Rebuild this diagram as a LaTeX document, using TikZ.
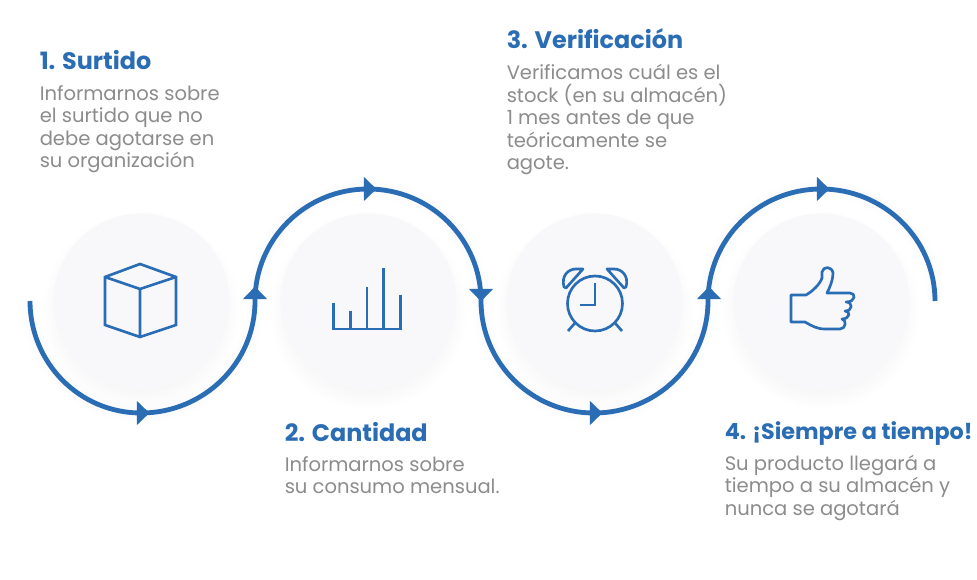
\documentclass[tikz,border=0pt]{standalone}
\usepackage{fontspec}
\setmainfont{Poppins}
\usetikzlibrary{positioning, backgrounds, shapes.geometric}
\definecolor{flowBlue}{HTML}{2A6DB5}
\definecolor{bodyGray}{HTML}{8C8C8C}
\definecolor{discGray}{HTML}{F8F8FB}
\newcommand{\trackpath}{(p0) to[out=-90, in=180] (low1) to[out=0, in=-90] (p1)
    to[out=90, in=180] (top2) to[out=0, in=90] (p2)
    to[out=-90, in=180] (low3) to[out=0, in=-90] (p3)
    to[out=90, in=180] (top4) to[out=0, in=90] (p4)}
\tikzset{
    discbox/.style={circle, minimum size=132pt, inner sep=0pt, fill=discGray},
    flowline/.style={line width=3.6pt, flowBlue},
    iconline/.style={line width=2pt, flowBlue, line join=miter},
    flowtip/.style={isosceles triangle, isosceles triangle apex angle=88, inner sep=0pt,
        minimum height=9.4pt, minimum width=18pt, fill=flowBlue},
    stephead/.style={anchor=base west, inner sep=0pt, text height=0pt, text depth=0pt,
        font=\fontsize{17.9}{21}\selectfont\bfseries, text=flowBlue},
    stepbody/.style={anchor=north west, inner sep=0pt, align=left, text=bodyGray,
        font=\fontsize{14.65}{16.9}\selectfont},
}
\begin{document}
\begin{tikzpicture}[x=0.75pt, y=-0.75pt]
    \useasboundingbox (0,0) rectangle (977,580);

    % Discs
    \node[discbox] (surtido) at (141.5,301.5) {};
    \node[discbox] (cantidad) at (368.5,301.5) {};
    \node[discbox] (verifica) at (594.5,301.5) {};
    \node[discbox] (tiempo) at (821.5,301.5) {};

    % Points on the track
    \coordinate (p0) at (30,301);
    \coordinate (p1) at (255,301);
    \coordinate (p2) at (481,301);
    \coordinate (p3) at (708,301);
    \coordinate (p4) at (935,301);
    \coordinate (low1) at (141,413);
    \coordinate (top2) at (368,189);
    \coordinate (low3) at (594,413);
    \coordinate (top4) at (821,189);

    % Soft shadows behind the discs and the track
    \begin{scope}[on background layer]
        \fill[white] (0,0) rectangle (977,580);
        \foreach \disc in {surtido,cantidad,verifica,tiempo}
            \foreach \grow in {-6,-4,...,8}
                \fill[black!70!blue, opacity=0.0045] ([yshift=-7pt]\disc.center) circle[radius=66pt+\grow pt];
        \foreach \wide in {5,8,11,14}
            \draw[black!70!blue, opacity=0.004, line width=\wide pt, yshift=-3pt] \trackpath;
    \end{scope}

    % Track
    \draw[flowline] \trackpath;

    % Arrow heads
    \node[flowtip] at (142,413) {};
    \node[flowtip, shape border rotate=90] at (255,294) {};
    \node[flowtip] at (369,189) {};
    \node[flowtip, shape border rotate=-90] at (481,294) {};
    \node[flowtip] at (595,413) {};
    \node[flowtip, shape border rotate=90] at (709,294) {};
    \node[flowtip] at (822,189) {};

    % Cube
    \draw[iconline] (140,264) -- (176,277) -- (176,325) -- (140,337) -- (105,325) -- (105,277) -- cycle;
    \draw[iconline] (105,277) -- (140,289) -- (176,277) (140,289) -- (140,337);

    % Bars
    \draw[iconline] (333.5,303) -- (333.5,329) -- (400.5,329) -- (400.5,295);
    \draw[iconline] (350.5,311) -- (350.5,329) (367,287) -- (367,329) (383.5,268) -- (383.5,329);

    % Clock
    \draw[iconline] (595,303.5) circle[radius=27.5];
    \draw[iconline] (595,283) -- (595,305) -- (580,305);
    \draw[iconline] (575,323) -- (568,331) (615,323) -- (622,331);
    \draw[iconline, line join=round] (583,269) -- (576,269) .. controls (568,269) and (561,276) .. (564,287) -- (566,288) -- cycle;
    \draw[iconline, line join=round] (607,269) -- (614,269) .. controls (622,269) and (629,276) .. (626,287) -- (624,288) -- cycle;

    % Thumb
    \draw[iconline, line join=round] (791,295) -- (806,295) .. controls (813,291) and (820,284) .. (822,278)
        -- (822,272) .. controls (823,266) and (832,266) .. (833,273)
        .. controls (833,280) and (830,287) .. (827,293) -- (850,293)
        .. controls (856,293) and (856,302) .. (846,302)
        .. controls (853,302) and (853,311) .. (845,311)
        .. controls (851,311) and (850,319) .. (842,319)
        .. controls (847,320) and (846,329) .. (840,329) -- (825,329)
        .. controls (817,329) and (812,326) .. (805,322) -- (791,322) -- cycle;

    % Texts
    \node[stephead] (head1) at (39.5,70) {1. Surtido};
    \node[stepbody, below=10.5pt of head1.south west, anchor=north west] (body1)
        {Informarnos sobre\\el surtido que no\\debe agotarse en\\su organizaci\'on};

    \node[stephead] (head2) at (284.5,441) {2. Cantidad};
    \node[stepbody, below=10.5pt of head2.south west, anchor=north west] (body2)
        {Informarnos sobre\\su consumo mensual.};

    \node[stephead] (head3) at (506.5,49) {3. Verificaci\'on};
    \node[stepbody, below=10.5pt of head3.south west, anchor=north west] (body3)
        {Verificamos cu\'al es el\\stock (en su almac\'en)\\1 mes antes de que\\te\'oricamente se\\agote.};

    \node[stephead, font=\fontsize{16.7}{21}\selectfont\bfseries] (head4) at (724.5,439.5) {4. ¡Siempre a tiempo!};
    \node[stepbody, below=10.7pt of head4.south west, anchor=north west] (body4)
        {Su producto llegar\'a a\\tiempo a su almac\'en y\\nunca se agotar\'a};
\end{tikzpicture}
\end{document}
